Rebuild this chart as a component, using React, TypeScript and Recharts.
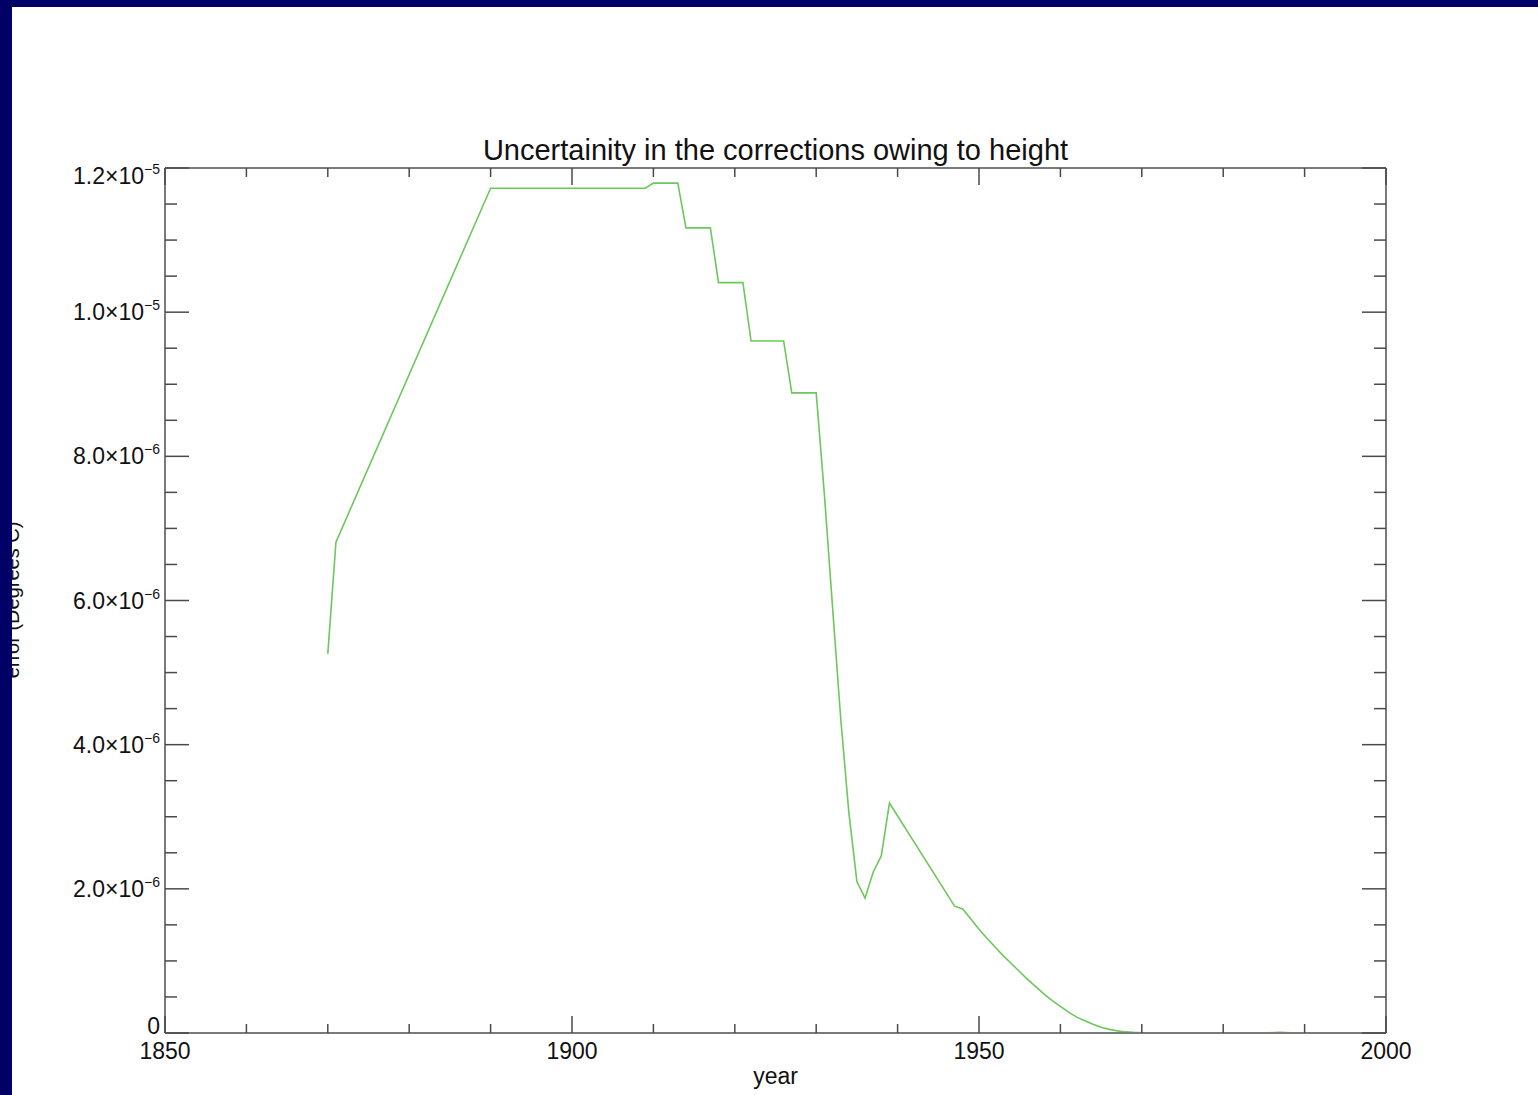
import { Line, LineChart, XAxis, YAxis } from "recharts";

// error (degrees C), by year
const years = [
  1870, 1871, 1890, 1909, 1910, 1913, 1914, 1917, 1918, 1921, 1922, 1926,
  1927, 1930, 1931, 1932, 1933, 1934, 1935, 1936, 1937, 1938, 1939, 1947,
  1948, 1949, 1950, 1951, 1952, 1953, 1954, 1955, 1956, 1957, 1958, 1959,
  1960, 1961, 1962, 1963, 1964, 1965, 1966, 1967, 1968, 1969, 1970, 1975,
  1985, 1987, 1989, 1997,
];
const errors = [
  5.26e-6, 6.81e-6, 11.72e-6, 11.72e-6, 11.79e-6, 11.79e-6, 11.17e-6,
  11.17e-6, 10.41e-6, 10.41e-6, 9.6e-6, 9.6e-6, 8.88e-6, 8.88e-6, 7.48e-6,
  5.92e-6, 4.38e-6, 3.07e-6, 2.1e-6, 1.87e-6, 2.23e-6, 2.46e-6, 3.19e-6,
  1.76e-6, 1.72e-6, 1.58e-6, 1.44e-6, 1.31e-6, 1.19e-6, 1.07e-6, 0.96e-6,
  0.85e-6, 0.74e-6, 0.64e-6, 0.54e-6, 0.45e-6, 0.37e-6, 0.29e-6, 0.22e-6,
  0.17e-6, 0.12e-6, 0.08e-6, 0.05e-6, 0.03e-6, 0.015e-6, 0.008e-6, 0.004e-6,
  0.001e-6, 0, 0.01e-6, 0, 0,
];

const xTicks = [
  1850, 1860, 1870, 1880, 1890, 1900, 1910, 1920, 1930, 1940, 1950, 1960,
  1970, 1980, 1990, 2000,
];
const xLabelEvery = 50;

const yTicks = [
  0, 0.5e-6, 1e-6, 1.5e-6, 2e-6, 2.5e-6, 3e-6, 3.5e-6, 4e-6, 4.5e-6, 5e-6,
  5.5e-6, 6e-6, 6.5e-6, 7e-6, 7.5e-6, 8e-6, 8.5e-6, 9e-6, 9.5e-6, 10e-6,
  10.5e-6, 11e-6, 11.5e-6, 12e-6,
];
const yMajorTicks = [0, 2e-6, 4e-6, 6e-6, 8e-6, 10e-6, 12e-6];
const yMajorMantissa = ["0", "2.0×10", "4.0×10", "6.0×10", "8.0×10", "1.0×10", "1.2×10"];
const yMajorExponent = ["", "−6", "−6", "−6", "−6", "−5", "−5"];

const data = years.map((year, i) => ({ year, error: errors[i] }));

const FONT = "'Liberation Sans', Arial, Helvetica, sans-serif";
const TICK = "#4a4a4a";
const FRAME = "#7a7a7a";

const majorIndex = (v: number) =>
  yMajorTicks.findIndex((m) => Math.abs(m - v) < 1e-12);

const BottomTick = ({ x, y, payload }: any) => {
  const major = payload.value % xLabelEvery === 0;
  return (
    <g>
      <line x1={x} x2={x} y1={y} y2={y - (major ? 17 : 9)} stroke={TICK} strokeWidth={1.5} />
      {major && (
        <text x={x} y={y + 26} textAnchor="middle" fontSize={23} fontFamily={FONT} fill="#111">
          {payload.value}
        </text>
      )}
    </g>
  );
};

const TopTick = ({ x, y, payload }: any) => {
  const major = payload.value % xLabelEvery === 0;
  return <line x1={x} x2={x} y1={y} y2={y + (major ? 17 : 9)} stroke={TICK} strokeWidth={1.5} />;
};

const LeftTick = ({ x, y, payload }: any) => {
  const mi = majorIndex(payload.value);
  const major = mi >= 0;
  let shift = 0;
  if (major && mi === yMajorTicks.length - 1) shift = 8;
  if (major && mi === 0) shift = -7;
  return (
    <g>
      <line x1={x} x2={x + (major ? 24 : 12)} y1={y} y2={y} stroke={TICK} strokeWidth={1.5} />
      {major && (
        <text x={x - 5} y={y + 8 + shift} textAnchor="end" fontSize={23} fontFamily={FONT} fill="#111">
          {yMajorMantissa[mi]}
          {yMajorExponent[mi] && (
            <tspan fontSize={14} dy={-10}>
              {yMajorExponent[mi]}
            </tspan>
          )}
        </text>
      )}
    </g>
  );
};

const RightTick = ({ x, y, payload }: any) => {
  const major = majorIndex(payload.value) >= 0;
  return <line x1={x} x2={x - (major ? 24 : 12)} y1={y} y2={y} stroke={TICK} strokeWidth={1.5} />;
};

const App = () => {
  return (
    <div style={{ position: "absolute", left: 0, top: 0, width: 1538, height: 1095, background: "#fff" }}>
      <LineChart
        width={1538}
        height={1095}
        data={data}
        margin={{ top: 167, right: 151, bottom: 0, left: 0 }}
      >
        <XAxis
          dataKey="year"
          type="number"
          domain={[1850, 2000]}
          ticks={xTicks}
          interval={0}
          height={62}
          tickSize={0}
          tickMargin={0}
          tickLine={false}
          axisLine={{ stroke: FRAME, strokeWidth: 2 }}
          tick={<BottomTick />}
          allowDataOverflow
          label={{
            content: ({ viewBox }: any) => (
              <text
                x={viewBox.x + viewBox.width / 2}
                y={viewBox.y + 51}
                textAnchor="middle"
                fontSize={23}
                fontFamily={FONT}
                fill="#111"
              >
                year
              </text>
            ),
          }}
        />
        <XAxis
          xAxisId="top"
          dataKey="year"
          orientation="top"
          type="number"
          domain={[1850, 2000]}
          ticks={xTicks}
          interval={0}
          height={1}
          tickSize={0}
          tickMargin={0}
          tickLine={false}
          axisLine={{ stroke: FRAME, strokeWidth: 2 }}
          tick={<TopTick />}
          allowDataOverflow
        />
        <YAxis
          type="number"
          domain={[0, 1.2e-5]}
          ticks={yTicks}
          interval={0}
          width={165}
          tickSize={0}
          tickMargin={0}
          tickLine={false}
          axisLine={{ stroke: FRAME, strokeWidth: 2 }}
          tick={<LeftTick />}
          allowDataOverflow
          label={{
            content: () => (
              <text
                x={19}
                y={600}
                transform="rotate(-90, 19, 600)"
                textAnchor="middle"
                fontSize={20}
                fontFamily={FONT}
                fill="#111"
              >
                error (Degrees C)
              </text>
            ),
          }}
        />
        <YAxis
          yAxisId="right"
          orientation="right"
          type="number"
          domain={[0, 1.2e-5]}
          ticks={yTicks}
          interval={0}
          width={1}
          tickSize={0}
          tickMargin={0}
          tickLine={false}
          axisLine={{ stroke: FRAME, strokeWidth: 2 }}
          tick={<RightTick />}
          allowDataOverflow
        />
        <Line
          type="linear"
          dataKey="error"
          stroke="#6cc85a"
          strokeWidth={1.6}
          dot={false}
          isAnimationActive={false}
        />
        {/* invisible copy bound to the top/right axes so they get drawn */}
        <Line
          xAxisId="top"
          yAxisId="right"
          type="linear"
          dataKey="error"
          stroke="none"
          dot={false}
          activeDot={false}
          isAnimationActive={false}
        />
      </LineChart>
      <div
        style={{
          position: "absolute",
          left: 165,
          width: 1221,
          top: 136,
          textAlign: "center",
          fontFamily: FONT,
          fontSize: 29,
          lineHeight: "29px",
          color: "#111",
        }}
      >
        Uncertainity in the corrections owing to height
      </div>
      <div style={{ position: "absolute", left: 0, top: 0, width: 1538, height: 7, background: "#000066" }} />
      <div style={{ position: "absolute", left: 0, top: 0, width: 12, height: 1095, background: "#000066" }} />
    </div>
  );
};

export default App;
